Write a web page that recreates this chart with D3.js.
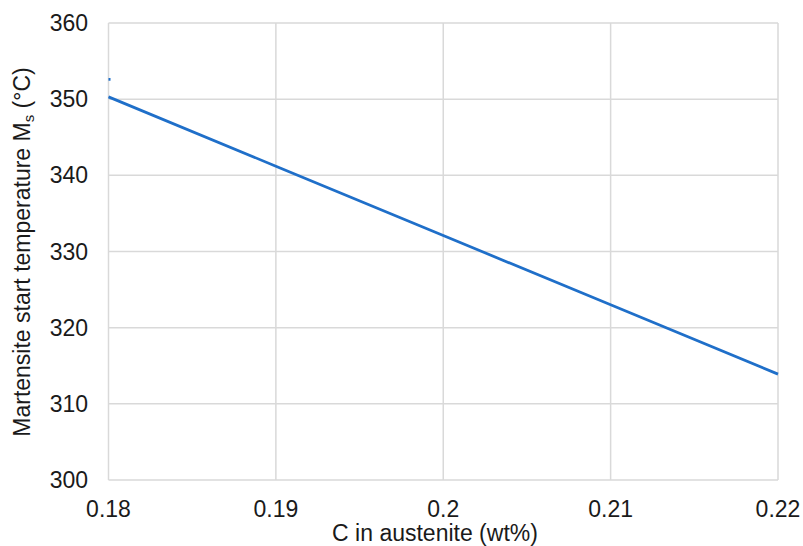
<!DOCTYPE html>
<html><head><meta charset="utf-8">
<script src="https://cdn.jsdelivr.net/npm/d3@7"></script>
<style>body{margin:0;background:#fff}svg{display:block}text{font-family:"Liberation Sans",Arial,sans-serif;fill:#1a1a1a}</style>
</head><body>
<script>
const xTicks = [0.18, 0.19, 0.2, 0.21, 0.22];
const yTicks = [300, 310, 320, 330, 340, 350, 360];
const carbon = [0.18, 0.19, 0.2, 0.21, 0.22];
const msTemp = [350.3, 341.2, 332.1, 323.0, 313.9];
const markX = [0.18, 0.18012];
const markY = [352.6, 352.6];

const W = 803, H = 546;
const m = {l: 108.5, r: 25, t: 23, b: 66};
const FS = 23;
const svg = d3.select("body").append("svg").attr("width", W).attr("height", H);
const x = d3.scaleLinear().domain([0.18, 0.22]).range([m.l, W - m.r]);
const y = d3.scaleLinear().domain([300, 360]).range([H - m.b, m.t]);

const g = svg.append("g");
g.selectAll(".vg").data(xTicks).enter().append("line")
  .attr("x1", d => x(d)).attr("x2", d => x(d)).attr("y1", y(300)).attr("y2", y(360))
  .attr("stroke", "#d9d9d9").attr("stroke-width", 1.5);
g.selectAll(".hg").data(yTicks).enter().append("line")
  .attr("x1", x(0.18)).attr("x2", x(0.22)).attr("y1", d => y(d)).attr("y2", d => y(d))
  .attr("stroke", "#d9d9d9").attr("stroke-width", 1.5);

g.selectAll(".xt").data(xTicks).enter().append("text")
  .attr("x", d => x(d)).attr("y", y(300) + 37).attr("text-anchor", "middle")
  .attr("font-size", FS).text(d => d3.format("")(d));
g.selectAll(".yt").data(yTicks).enter().append("text")
  .attr("x", 88).attr("y", d => y(d) + 8).attr("text-anchor", "end")
  .attr("font-size", FS).text(d => d);

const line = d3.line().x(d => x(d[0])).y(d => y(d[1]));
svg.append("path").datum(carbon.map((c, i) => [c, msTemp[i]]))
  .attr("d", line).attr("fill", "none").attr("stroke", "#1f6fc9").attr("stroke-width", 2.75);
svg.append("path").datum(markX.map((c, i) => [c, markY[i]]))
  .attr("d", line).attr("fill", "none").attr("stroke", "#1f6fc9").attr("stroke-width", 2.75);

svg.append("text").attr("x", 435).attr("y", 541)
  .attr("text-anchor", "middle").attr("font-size", FS).text("C in austenite (wt%)");
const yl = svg.append("text").attr("transform", `translate(30,252) rotate(-90)`)
  .attr("text-anchor", "middle").attr("font-size", FS);
yl.append("tspan").text("Martensite start temperature M");
yl.append("tspan").attr("font-size", 15).attr("dy", 4).text("s");
yl.append("tspan").attr("dy", -4).text(" (°C)");
</script>
</body></html>
